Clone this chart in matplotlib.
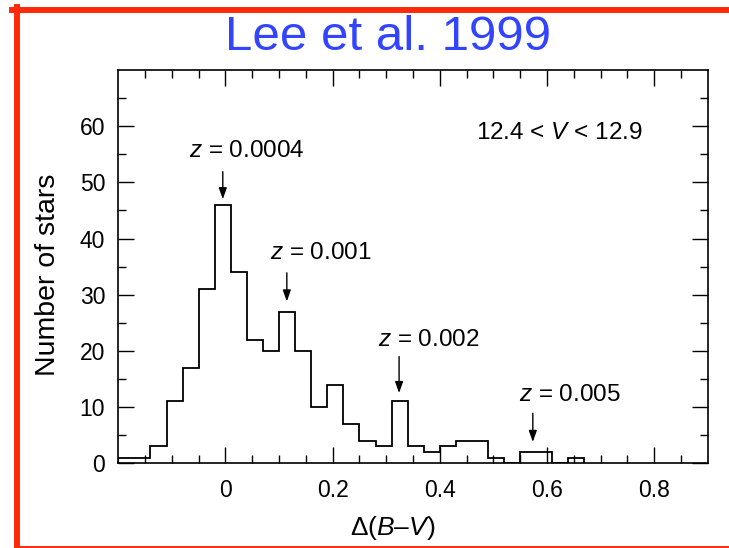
import numpy as np
import matplotlib
matplotlib.use('Agg')
import matplotlib.pyplot as plt
from matplotlib.lines import Line2D

plt.rcParams['font.family'] = ['Liberation Sans', 'DejaVu Sans']
plt.rcParams['mathtext.fontset'] = 'custom'
plt.rcParams['mathtext.rm'] = 'Liberation Sans'
plt.rcParams['mathtext.it'] = 'Liberation Sans:italic'

# ── data ─────────────────────────────────────────────────────────────────────
bin_edges = [-0.20, -0.17, -0.14, -0.11, -0.08, -0.05, -0.02, 0.01, 0.04, 0.07,
             0.10, 0.13, 0.16, 0.19, 0.22, 0.25, 0.28, 0.31, 0.34, 0.37,
             0.40, 0.43, 0.46, 0.49, 0.52, 0.55, 0.58, 0.61, 0.64, 0.67]
counts = [1, 1, 3, 11, 17, 31, 46, 34, 22, 20,
          27, 20, 10, 14, 7, 4, 3, 11, 3, 2,
          3, 4, 4, 1, 0, 2, 2, 0, 1]

# metallicity labels: text, arrow x, arrow tip y, arrow tail y, text x, text baseline y
z_labels = ['$z$ = 0.0004', '$z$ = 0.001', '$z$ = 0.002', '$z$ = 0.005']
arrow_x = [-0.005, 0.1145, 0.324, 0.5736]
arrow_tip = [47.0, 28.8, 12.5, 3.8]
arrow_tail = [51.9, 33.9, 19.0, 8.9]
label_x = [0.040, 0.178, 0.380, 0.642]
label_y = [54.5, 36.4, 20.9, 11.1]

x_ticks = [0, 0.2, 0.4, 0.6, 0.8]
x_ticklabels = ['0', '0.2', '0.4', '0.6', '0.8']
y_ticks = [0, 10, 20, 30, 40, 50, 60]

# ── figure ───────────────────────────────────────────────────────────────────
fig = plt.figure(figsize=(7.29, 5.48), dpi=100)
ax = fig.add_axes([0.1623, 0.1546, 0.8085, 0.7177])

ax.stairs(counts, bin_edges, color='black', linewidth=1.3, baseline=0)

ax.set_xlim(-0.2, 0.9)
ax.set_ylim(0, 70)
ax.set_xticks(x_ticks)
ax.set_xticklabels(x_ticklabels)
ax.set_xticks(np.arange(-0.15, 0.9, 0.05), minor=True)
ax.set_yticks(y_ticks)
ax.set_yticks(np.arange(5, 70, 10), minor=True)

ax.tick_params(which='both', direction='in', top=True, right=True, width=1.0,
               colors='black', labelsize=16.5)
ax.tick_params(which='major', length=11.5)
ax.tick_params(which='minor', length=6)
ax.tick_params(axis='x', pad=11.5)
ax.tick_params(axis='y', pad=9.5)
for sp in ax.spines.values():
    sp.set_linewidth(1.2)

ax.set_ylabel('Number of stars', fontsize=20.5)
ax.yaxis.set_label_coords(-0.097, 0.478)
ax.set_xlabel('Δ($B$–$V$)', fontsize=19)
ax.xaxis.set_label_coords(0.466, -0.128)

for txt, xa, tip, tail, tx, ty in zip(z_labels, arrow_x, arrow_tip, arrow_tail,
                                      label_x, label_y):
    ax.annotate('', xy=(xa, tip), xytext=(xa, tail),
                arrowprops=dict(arrowstyle='-|>,head_length=0.45,head_width=0.16',
                                color='black', lw=1.0, mutation_scale=15,
                                shrinkA=0, shrinkB=0))
    ax.text(tx, ty, txt, fontsize=17.5, ha='center', va='baseline')

ax.text(0.6227, 57.7, '12.4 < $V$ < 12.9', fontsize=17.5, ha='center', va='baseline')

# title and slide frame
fig.text(388.5 / 729, 1 - 50 / 548, 'Lee et al. 1999', color='#3344ff',
         fontsize=35.5, ha='center', va='baseline')
red = '#ff2a0a'
fig.add_artist(Line2D([12 / 729, 1], [1 - 10.3 / 548] * 2, color=red, lw=4.3,
                      transform=fig.transFigure))
fig.add_artist(Line2D([17 / 729] * 2, [0, 1 - 7.3 / 548], color=red, lw=4.3,
                      transform=fig.transFigure))
fig.add_artist(Line2D([17 / 729, 1], [1 - 546.8 / 548] * 2, color=red, lw=1.4,
                      transform=fig.transFigure))

plt.savefig('out.png', dpi=100)
